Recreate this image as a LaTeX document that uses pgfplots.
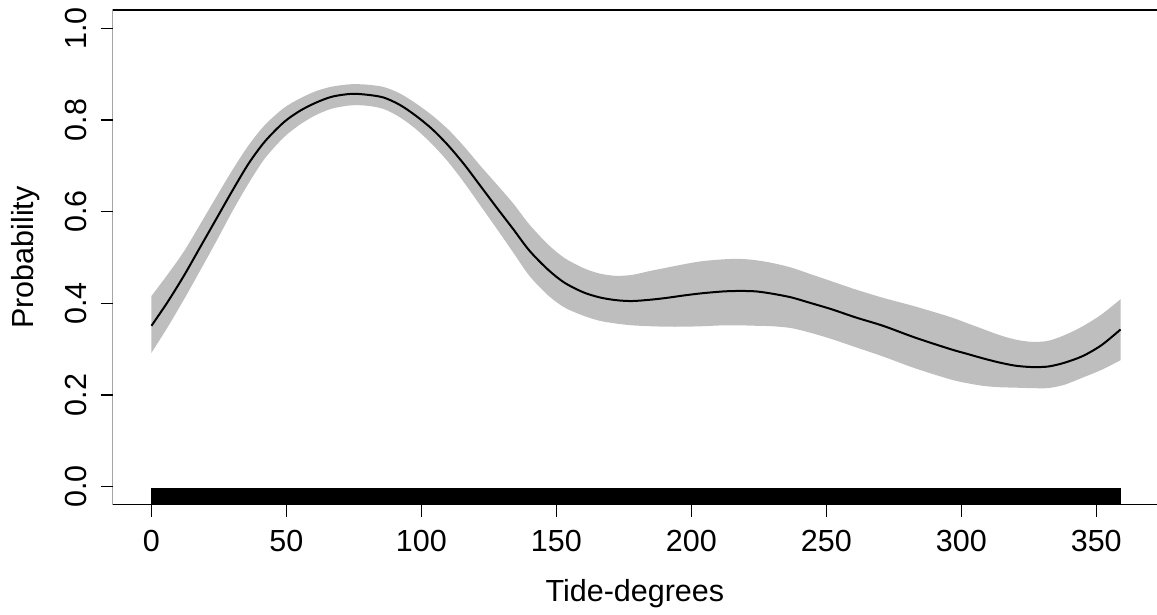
\documentclass[border=0pt]{standalone}
\usepackage{fontspec}
\setmainfont{Liberation Sans}
\usepackage{pgfplots}
\usepackage{pgfplotstable}
\pgfplotsset{compat=1.18}
\usepgfplotslibrary{fillbetween}
\definecolor{bandgray}{RGB}{190,190,190}

\pgfplotstableread{
x m lo hi
0 0.351 0.292 0.416
6 0.403 0.348 0.463
12 0.460 0.408 0.513
18 0.522 0.471 0.572
24 0.584 0.535 0.632
30 0.646 0.601 0.691
36 0.705 0.662 0.745
42 0.753 0.716 0.789
49 0.795 0.762 0.826
55 0.820 0.790 0.847
61 0.838 0.811 0.863
67 0.851 0.825 0.873
74 0.857 0.832 0.878
80 0.855 0.831 0.877
86 0.849 0.824 0.872
92 0.833 0.806 0.858
98 0.809 0.780 0.836
104 0.780 0.747 0.810
110 0.744 0.708 0.779
116 0.702 0.662 0.741
122 0.655 0.612 0.699
128 0.608 0.562 0.659
134 0.562 0.511 0.618
140 0.515 0.460 0.572
147 0.473 0.417 0.528
153 0.445 0.391 0.499
160 0.424 0.373 0.477
166 0.413 0.362 0.465
172 0.407 0.356 0.460
178 0.405 0.352 0.462
185 0.408 0.350 0.471
191 0.412 0.349 0.478
197 0.417 0.349 0.485
204 0.422 0.350 0.492
212 0.426 0.352 0.496
218 0.427 0.352 0.497
224 0.426 0.351 0.494
230 0.421 0.350 0.488
237 0.413 0.346 0.478
244 0.401 0.336 0.464
252 0.387 0.322 0.448
261 0.369 0.304 0.430
271 0.351 0.284 0.412
283 0.325 0.258 0.393
296 0.300 0.234 0.370
302 0.290 0.226 0.357
308 0.280 0.220 0.344
314 0.271 0.217 0.331
320 0.264 0.216 0.321
326 0.261 0.215 0.316
332 0.262 0.215 0.318
338 0.270 0.222 0.330
345 0.285 0.238 0.350
352 0.309 0.255 0.376
359 0.343 0.276 0.409
}\band

\begin{document}
\begin{tikzpicture}
\begin{axis}[
  at={(0,0)}, anchor=south west,
  scale only axis, width=1044.3pt, height=495pt,
  xmin=-14.36, xmax=372.5, ymin=-0.04, ymax=1.04,
  axis line style={draw=none},
  tick align=outside, xtick pos=left, ytick pos=left,
  major tick length=12pt,
  tick style={black, line width=1.2pt},
  xtick={0,50,100,150,200,250,300,350},
  xticklabels={0,50,100,150,200,250,300,350},
  ytick={0,0.2,0.4,0.6,0.8,1.0},
  yticklabels={0.0,0.2,0.4,0.6,0.8,1.0},
  ticklabel style={font=\fontsize{30.5}{36}\selectfont},
  yticklabel style={rotate=90, anchor=south},
  yticklabel shift=10pt,
  xticklabel shift=10pt,
  xlabel={Tide-degrees},
  xlabel style={at={(rel axis cs:0.5,-0.19535)}, anchor=base, font=\fontsize{30.5}{36}\selectfont},
  ylabel={Probability},
  ylabel style={at={(rel axis cs:-0.07536,0.5)}, anchor=base, font=\fontsize{30.5}{36}\selectfont},
]
\addplot[name path=hi, draw=none, smooth] table[x=x, y=hi]{\band};
\addplot[name path=lo, draw=none, smooth] table[x=x, y=lo]{\band};
\addplot[fill=bandgray, draw=none] fill between[of=hi and lo];
\addplot[black, line width=2pt, smooth] table[x=x, y=m]{\band};
\addplot[fill=black, draw=none] coordinates {(0,-0.04) (359,-0.04) (359,-0.0037) (0,-0.0037)} -- cycle;
\draw[black, line width=1.2pt] (rel axis cs:1,0) -- (rel axis cs:0,0) -- (rel axis cs:0,1) -- (rel axis cs:1,1);
\end{axis}
\pgfresetboundingbox
\useasboundingbox (-112.7pt,-110pt) rectangle (1044.3pt,505pt);
\end{tikzpicture}
\end{document}
